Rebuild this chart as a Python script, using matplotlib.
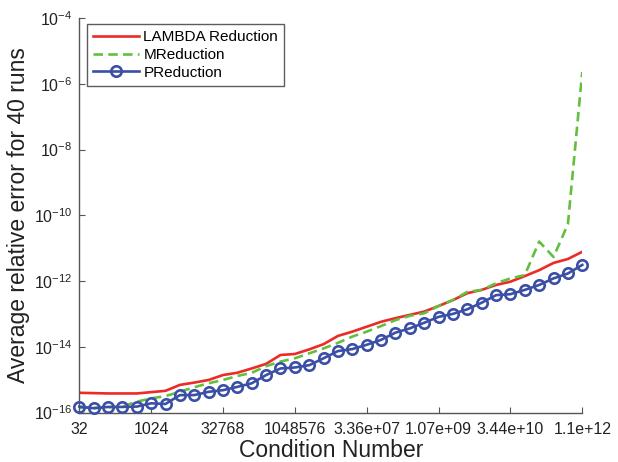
import numpy as np
import matplotlib
matplotlib.use("Agg")
import matplotlib.pyplot as plt

plt.rcParams["font.family"] = ["Liberation Sans", "DejaVu Sans"]

# condition number = 2^k
exponents = list(range(5, 41))
tick_exponents = [5, 10, 15, 20, 25, 30, 35, 40]
tick_labels = ["32", "1024", "32768", "1048576", "3.36e+07", "1.07e+09", "3.44e+10", "1.1e+12"]

# log10 of average relative error
lambda_log = [-15.40, -15.41, -15.42, -15.42, -15.42, -15.38, -15.34, -15.16, -15.09, -15.01,
              -14.86, -14.79, -14.66, -14.52, -14.25, -14.22, -14.08, -13.92, -13.67, -13.54,
              -13.39, -13.24, -13.13, -13.03, -12.93, -12.76, -12.58, -12.37, -12.27, -12.12,
              -12.02, -11.85, -11.67, -11.45, -11.33, -11.11]
mred_log = [-15.85, -15.86, -15.84, -15.82, -15.67, -15.57, -15.50, -15.37, -15.23, -15.11,
            -15.01, -14.89, -14.79, -14.59, -14.45, -14.35, -14.20, -14.05, -13.88, -13.69,
            -13.54, -13.37, -13.19, -13.06, -12.98, -12.76, -12.58, -12.33, -12.27, -12.07,
            -11.92, -11.82, -10.80, -11.27, -10.27, -5.64]
pred_log = [-15.82, -15.87, -15.83, -15.83, -15.82, -15.72, -15.74, -15.47, -15.47, -15.37,
            -15.32, -15.22, -15.11, -14.86, -14.66, -14.63, -14.56, -14.35, -14.13, -14.07,
            -13.94, -13.79, -13.57, -13.44, -13.27, -13.09, -13.00, -12.86, -12.66, -12.43,
            -12.40, -12.27, -12.12, -11.92, -11.77, -11.51]

x = 2.0 ** np.array(exponents)
fig = plt.figure(figsize=(6.18, 4.62), dpi=100)
ax = fig.add_axes([0.1283, 0.1071, 0.8139, 0.8539])

ax.plot(x, 10.0 ** np.array(lambda_log), color="#ec2a26", lw=1.9, label="LAMBDA Reduction")
ax.plot(x, 10.0 ** np.array(mred_log), color="#62bf3f", lw=1.9, dashes=(3.6, 2.0), label="MReduction")
ax.plot(x, 10.0 ** np.array(pred_log), color="#3b4fa6", lw=1.9, marker="o", ms=7.5,
        mfc="none", mew=1.9, label="PReduction", clip_on=False, zorder=3)

ax.set_xscale("log", base=2)
ax.set_yscale("log")
ax.set_xlim(2.0 ** 5, 2.0 ** 40)
ax.set_ylim(1e-16, 1e-4)
ax.set_xticks(2.0 ** np.array(tick_exponents))
ax.set_xticklabels(tick_labels)
ax.xaxis.set_minor_locator(matplotlib.ticker.NullLocator())
ax.set_yticks([10.0 ** e for e in range(-16, -3, 2)])
ax.yaxis.set_minor_locator(matplotlib.ticker.NullLocator())

for s in ["top", "right"]:
    ax.spines[s].set_visible(False)
for s in ["left", "bottom"]:
    ax.spines[s].set_color("#555555")
    ax.spines[s].set_linewidth(1.0)
ax.tick_params(direction="in", length=4, color="#555555", labelsize=11.5, labelcolor="#222222")
ax.tick_params(axis="x", pad=7)
ax.tick_params(axis="y", pad=5)

ax.set_xlabel("Condition Number", fontsize=16.5, color="#222222", labelpad=1)
ax.set_ylabel("Average relative error for 40 runs", fontsize=16.5, color="#222222", labelpad=3)

leg = ax.legend(loc="upper left", bbox_to_anchor=(0.015, 0.985), fontsize=11, handlelength=3.0,
                frameon=True, fancybox=False, borderaxespad=0, borderpad=0.4,
                labelspacing=0.25, handletextpad=0.3)
leg.get_frame().set_edgecolor("#333333")
leg.get_frame().set_linewidth(1.0)

fig.savefig("out.png", dpi=100)
